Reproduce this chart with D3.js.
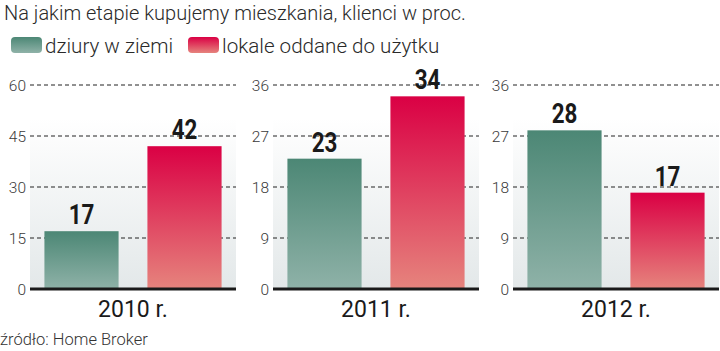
<!DOCTYPE html>
<html>
<head>
<meta charset="utf-8">
<script src="https://cdn.jsdelivr.net/npm/d3@7"></script>
<style>
  body { margin: 0; background: #fff; }
  svg { display: block; }
</style>
</head>
<body>
<div id="chart"></div>
<script>
// data
const years = ["2010 r.", "2011 r.", "2012 r."]
const series = ["dziury w ziemi", "lokale oddane do użytku"]
const holes = [17, 23, 28]
const finished = [42, 34, 17]
const axisMax = [60, 36, 36]
const axisTicks = [[0, 15, 30, 45, 60], [0, 9, 18, 27, 36], [0, 9, 18, 27, 36]]

const width = 720, height = 351
const svg = d3.select("#chart").append("svg")
    .attr("width", width)
    .attr("height", height)

const defs = svg.append("defs")
function grad(id, top, bottom) {
    let g = defs.append("linearGradient").attr("id", id)
        .attr("x1", 0).attr("y1", 0).attr("x2", 0).attr("y2", 1)
    g.append("stop").attr("offset", "0%").attr("stop-color", top)
    g.append("stop").attr("offset", "100%").attr("stop-color", bottom)
}
grad("g-green", "#4c8775", "#8fb2a8")
grad("g-red", "#da0044", "#e6847d")
grad("g-bg", "#ffffff", "#e3e8e9")
const fills = ["url(#g-green)", "url(#g-red)"]

const font = "Roboto, 'Open Sans', sans-serif"

// title
svg.append("text")
    .attr("x", 4).attr("y", 20)
    .style("font-family", font).style("font-weight", 300)
    .style("font-size", "20px").style("fill", "#2a2a2a")
    .text("Na jakim etapie kupujemy mieszkania, klienci w proc.")

// legend
const legendX = [11, 188]
series.forEach((s, i) => {
    svg.append("rect")
        .attr("x", legendX[i]).attr("y", 37)
        .attr("width", 31).attr("height", 16)
        .attr("rx", 4)
        .attr("fill", fills[i])
    svg.append("text")
        .attr("x", legendX[i] + 34).attr("y", 53)
        .style("font-family", font).style("font-weight", 300)
        .style("font-size", "20.6px").style("fill", "#2a2a2a")
        .text(s)
})

// panels
const panelLeft = [30, 273, 513]
const panelWidth = 206
const y0 = 289, yTop = 85

years.forEach((yr, p) => {
    const g = svg.append("g").attr("transform", `translate(${panelLeft[p]},0)`)

    const y = d3.scaleLinear().domain([0, axisMax[p]]).range([y0, yTop])
    const x = d3.scaleBand().domain(series).range([0, panelWidth])
        .paddingInner(0.28).paddingOuter(0.14)

    // light background
    g.append("rect")
        .attr("x", 0).attr("y", 118)
        .attr("width", panelWidth).attr("height", y0 - 118)
        .attr("fill", "url(#g-bg)")

    // grid lines + tick labels
    const ticks = axisTicks[p].filter(t => t > 0)
    g.selectAll(".grid").data(ticks).enter()
        .append("line")
        .attr("x1", 0).attr("x2", panelWidth)
        .attr("y1", d => y(d)).attr("y2", d => y(d))
        .attr("stroke", "#222")
        .attr("stroke-width", 1)
        .attr("stroke-dasharray", "4,3")

    g.selectAll(".tick-label").data(axisTicks[p]).enter()
        .append("text")
        .attr("x", -4).attr("y", d => y(d))
        .attr("dy", "0.36em")
        .attr("text-anchor", "end")
        .style("font-family", font).style("font-weight", 300)
        .style("font-size", "15.5px").style("fill", "#3a3a3a")
        .text(d => d)

    const vals = [holes[p], finished[p]]

    // bars
    g.selectAll(".bar").data(vals).enter()
        .append("rect")
        .attr("x", (d, i) => x(series[i]))
        .attr("y", d => y(d))
        .attr("width", x.bandwidth())
        .attr("height", d => y0 - y(d))
        .attr("fill", (d, i) => fills[i])

    // value labels, squeezed to look condensed
    g.selectAll(".val").data(vals).enter()
        .append("text")
        .attr("transform", (d, i) => `translate(${x(series[i]) + x.bandwidth() / 2},${y(d) - 7}) scale(0.8,1)`)
        .attr("text-anchor", "middle")
        .style("font-family", "Roboto, sans-serif")
        .style("font-weight", 700)
        .style("font-size", "28px").style("fill", "#1a1a1a")
        .text(d => d)

    // baseline
    g.append("line")
        .attr("x1", 0).attr("x2", panelWidth)
        .attr("y1", y0).attr("y2", y0)
        .attr("stroke", "#1a1a1a")
        .attr("stroke-width", 3)

    // year label
    g.append("text")
        .attr("x", panelWidth / 2).attr("y", 317)
        .attr("text-anchor", "middle")
        .style("font-family", font)
        .style("font-size", "23px").style("fill", "#1a1a1a")
        .text(yr)
})

// source
svg.append("text")
    .attr("x", 0).attr("y", 345)
    .style("font-family", font).style("font-weight", 300)
    .style("font-size", "16.5px").style("fill", "#333")
    .text("źródło: Home Broker")
</script>
</body>
</html>
